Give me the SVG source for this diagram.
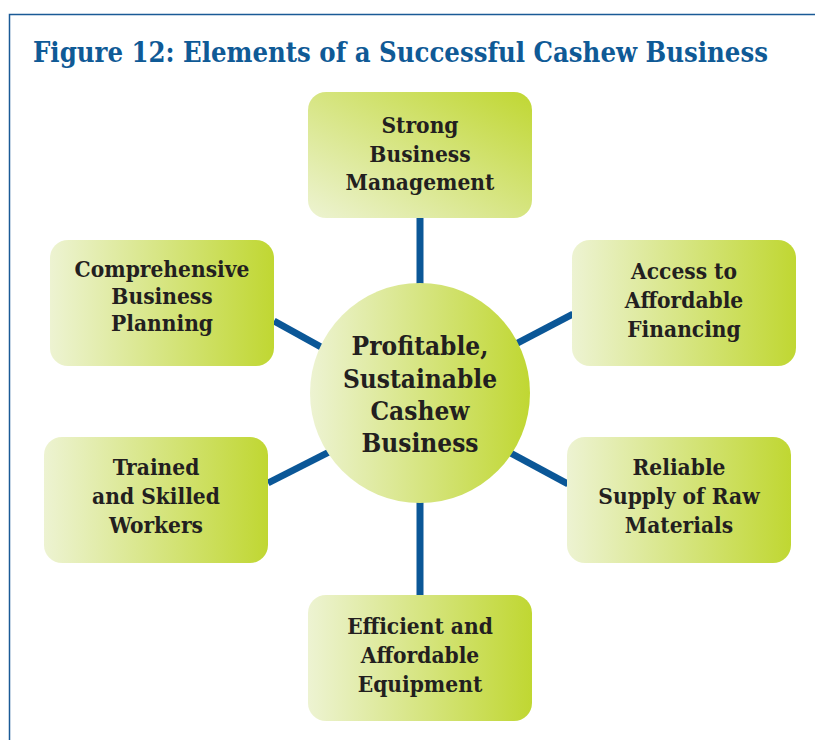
<svg xmlns="http://www.w3.org/2000/svg" width="815" height="740" viewBox="0 0 815 740">
<defs>
<linearGradient id="gh" x1="0" y1="0" x2="1" y2="0">
<stop offset="0" stop-color="#edf3d2"/>
<stop offset="1" stop-color="#c0d732"/>
</linearGradient>
<linearGradient id="gd" x1="0" y1="1" x2="1" y2="0">
<stop offset="0" stop-color="#edf3d2"/>
<stop offset="1" stop-color="#c0d732"/>
</linearGradient>
</defs>
<style>
.t{font-family:"DejaVu Serif Condensed","DejaVu Serif",serif;font-weight:bold;fill:#231f20;text-anchor:middle}
.b{font-size:22.5px}
.c{font-size:26px}
.title{font-family:"DejaVu Serif Condensed","DejaVu Serif",serif;font-weight:bold;font-size:27.2px;fill:#0f5a96}
.ln{stroke:#0b5797;stroke-width:7;fill:none}
</style>
<rect width="815" height="740" fill="#fff"/>
<path d="M9.5 740 V14.5 H815" fill="none" stroke="#1a5a96" stroke-width="1.5"/>
<text class="title" x="33" y="62">Figure 12: Elements of a Successful Cashew Business</text>
<g id="connectors">
<line class="ln" x1="420" y1="218" x2="420" y2="290"/>
<line class="ln" x1="420" y1="495" x2="420" y2="595"/>
<line class="ln" x1="274" y1="321" x2="330" y2="352"/>
<line class="ln" x1="573" y1="314" x2="510" y2="347"/>
<line class="ln" x1="268" y1="483" x2="335" y2="449"/>
<line class="ln" x1="568" y1="484" x2="505" y2="450"/>
</g>
<g id="center">
<circle cx="420" cy="393" r="110" fill="url(#gh)"/>
<text class="t c" x="420" y="355">Profitable,</text>
<text class="t c" x="420" y="388">Sustainable</text>
<text class="t c" x="420" y="420">Cashew</text>
<text class="t c" x="420" y="452">Business</text>
</g>
<g id="n-management">
<rect x="308" y="92" width="224" height="126" rx="18" fill="url(#gd)"/>
<text class="t b" x="420" y="133">Strong</text>
<text class="t b" x="420" y="162">Business</text>
<text class="t b" x="420" y="190">Management</text>
</g>
<g id="n-planning">
<rect x="50" y="240" width="224" height="126" rx="18" fill="url(#gh)"/>
<text class="t b" x="162" y="277">Comprehensive</text>
<text class="t b" x="162" y="304">Business</text>
<text class="t b" x="162" y="331">Planning</text>
</g>
<g id="n-financing">
<rect x="572" y="240" width="224" height="126" rx="18" fill="url(#gh)"/>
<text class="t b" x="684" y="279">Access to</text>
<text class="t b" x="684" y="308">Affordable</text>
<text class="t b" x="684" y="337">Financing</text>
</g>
<g id="n-workers">
<rect x="44" y="437" width="224" height="126" rx="18" fill="url(#gh)"/>
<text class="t b" x="156" y="475">Trained</text>
<text class="t b" x="156" y="504">and Skilled</text>
<text class="t b" x="156" y="533">Workers</text>
</g>
<g id="n-supply">
<rect x="567" y="437" width="224" height="126" rx="18" fill="url(#gh)"/>
<text class="t b" x="679" y="475">Reliable</text>
<text class="t b" x="679" y="504">Supply of Raw</text>
<text class="t b" x="679" y="533">Materials</text>
</g>
<g id="n-equipment">
<rect x="308" y="595" width="224" height="126" rx="18" fill="url(#gh)"/>
<text class="t b" x="420" y="634">Efficient and</text>
<text class="t b" x="420" y="663">Affordable</text>
<text class="t b" x="420" y="692">Equipment</text>
</g>
</svg>
